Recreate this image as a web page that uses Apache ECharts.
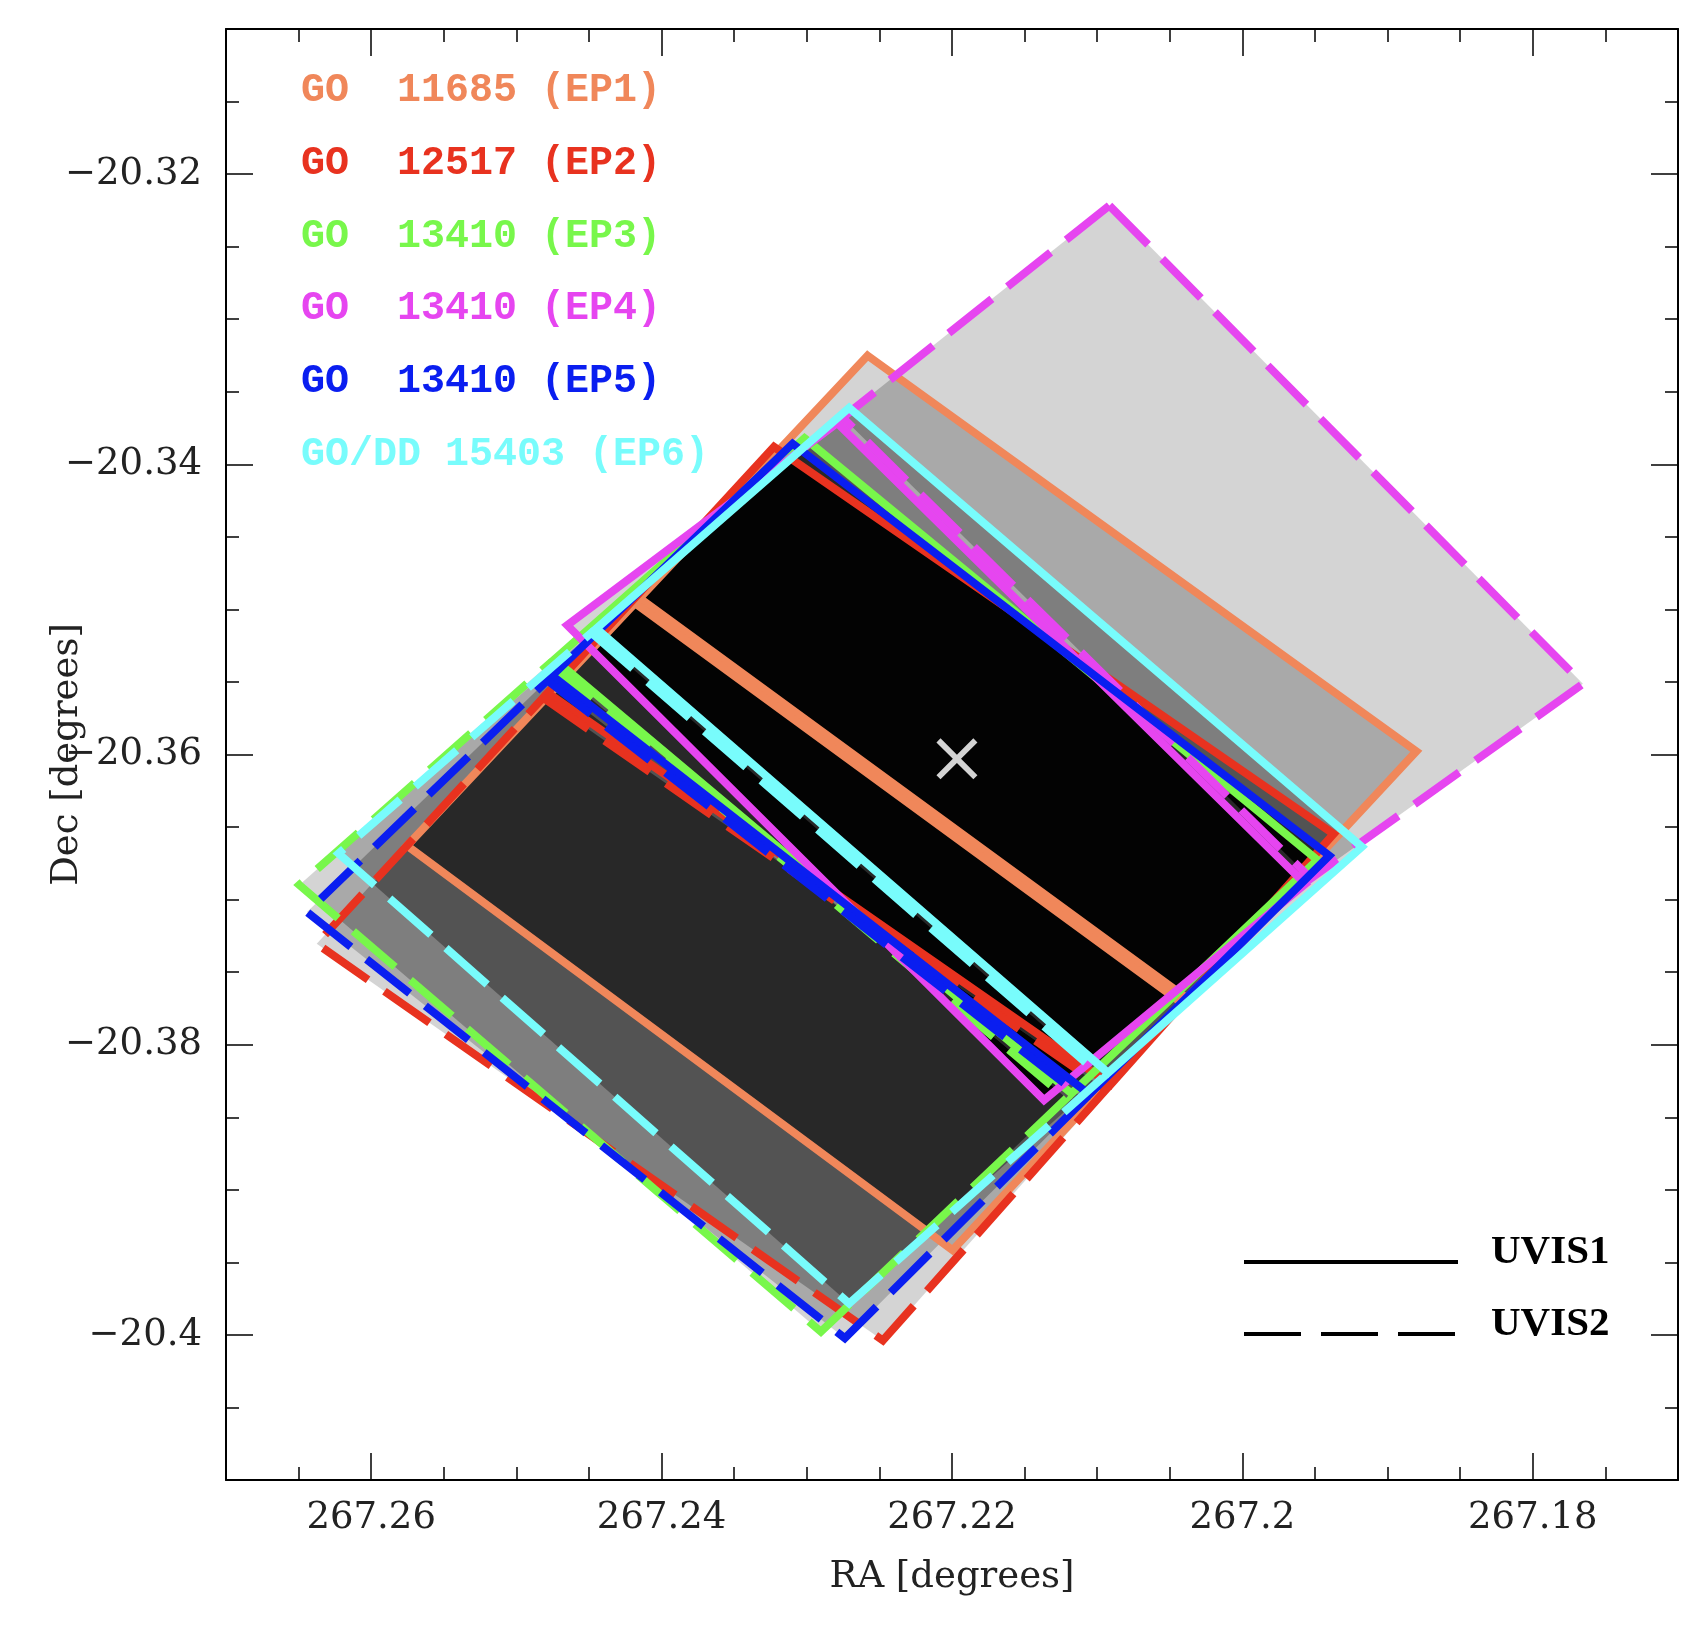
<!DOCTYPE html>
<html>
<head>
<meta charset="utf-8">
<script src="https://cdn.jsdelivr.net/npm/echarts@6/dist/echarts.min.js"></script>
<style>
  html, body { margin: 0; padding: 0; background: #fff; }
  #chart { width: 1706px; height: 1636px; }
</style>
</head>
<body>
<div id="chart"></div>
<script>
// epochs, legend labels and colours
const epochLabels = ['GO  11685 (EP1)', 'GO  12517 (EP2)', 'GO  13410 (EP3)',
                     'GO  13410 (EP4)', 'GO  13410 (EP5)', 'GO/DD 15403 (EP6)'];
const epochColors = ['#f0875a', '#e8321f', '#78f74b', '#e645f0', '#0a1ef0', '#78fcfc'];

// chip corners [RA, Dec]
const ep1Uvis1 = [[267.22581, -20.33251], [267.18802, -20.35978], [267.20383, -20.37680], [267.24151, -20.34923]];
const ep1Uvis2 = [[267.24183, -20.34957], [267.20415, -20.37714], [267.21996, -20.39416], [267.25753, -20.36629]];
const ep2Uvis1 = [[267.23226, -20.33880], [267.19372, -20.36547], [267.20908, -20.38275], [267.24785, -20.35575]];
const ep2Uvis2 = [[267.24816, -20.35609], [267.20940, -20.38310], [267.22476, -20.40038], [267.26375, -20.37304]];
const ep3Uvis1 = [[267.23016, -20.33820], [267.19484, -20.36727], [267.21177, -20.38336], [267.24738, -20.35344]];
const ep3Uvis2 = [[267.24773, -20.35375], [267.21211, -20.38369], [267.22903, -20.39978], [267.26495, -20.36899]];
const ep4Uvis1 = [[267.22791, -20.33715], [267.19567, -20.36892], [267.21366, -20.38382], [267.24650, -20.35109]];
const ep4Uvis2 = [[267.20916, -20.32217], [267.17655, -20.35513], [267.19529, -20.36854], [267.22753, -20.33678]];
const ep5Uvis1 = [[267.23098, -20.33858], [267.19402, -20.36697], [267.21054, -20.38343], [267.24754, -20.35456]];
const ep5Uvis2 = [[267.24787, -20.35489], [267.21087, -20.38376], [267.22738, -20.40023], [267.26442, -20.37086]];
const ep6Uvis1 = [[267.22708, -20.33611], [267.19177, -20.36637], [267.20925, -20.38194], [267.24449, -20.35131]];
const ep6Uvis2 = [[267.24484, -20.35161], [267.20961, -20.38226], [267.22708, -20.39783], [267.26225, -20.36682]];

// target position
const target = [267.21966, -20.36030];

// axis ticks
const raMajor = [267.18, 267.2, 267.22, 267.24, 267.26];
const raMinor = [267.175, 267.185, 267.19, 267.195, 267.205, 267.21, 267.215,
                 267.225, 267.23, 267.235, 267.245, 267.25, 267.255, 267.265];
const decMajor = [-20.4, -20.38, -20.36, -20.34, -20.32];
const decMinor = [-20.405, -20.395, -20.39, -20.385, -20.375, -20.37, -20.365,
                  -20.355, -20.35, -20.345, -20.335, -20.33, -20.325, -20.315];

// UVIS1 solid, UVIS2 dashed (EP1 drawn solid for both chips)
const chips = [
  { pts: ep1Uvis1, ep: 0, dashed: false }, { pts: ep1Uvis2, ep: 0, dashed: false },
  { pts: ep2Uvis1, ep: 1, dashed: false }, { pts: ep2Uvis2, ep: 1, dashed: true },
  { pts: ep3Uvis1, ep: 2, dashed: false }, { pts: ep3Uvis2, ep: 2, dashed: true },
  { pts: ep4Uvis1, ep: 3, dashed: false }, { pts: ep4Uvis2, ep: 3, dashed: true },
  { pts: ep5Uvis1, ep: 4, dashed: false }, { pts: ep5Uvis2, ep: 4, dashed: true },
  { pts: ep6Uvis1, ep: 5, dashed: false }, { pts: ep6Uvis2, ep: 5, dashed: true }
];

const chart = echarts.init(document.getElementById('chart'));

const labelFont = { fontFamily: 'DejaVu Serif', fontSize: 37, color: '#222' };
const fmt = v => (v < 0 ? '\u2212' : '') + Math.abs(v);

function axis(kind, pos, ticks, len, labels) {
  return {
    type: 'value', position: pos,
    min: kind === 'x' ? 267.17 : -20.41,
    max: kind === 'x' ? 267.27 : -20.31,
    inverse: kind === 'x',
    axisLine: { show: !!len.line, onZero: false, lineStyle: { color: '#000', width: 2 } },
    axisTick: { show: true, inside: true, length: len.tick, customValues: ticks,
                lineStyle: { color: '#000', width: 1.5 } },
    axisLabel: labels ? Object.assign({ customValues: ticks, formatter: fmt,
                margin: kind === 'x' ? 20 : 24 }, labelFont) : { show: false },
    splitLine: { show: false }
  };
}

const xMain = axis('x', 'bottom', raMajor, { tick: 27, line: true }, true);
xMain.name = 'RA [degrees]';
xMain.nameLocation = 'middle';
xMain.nameGap = 79;
xMain.nameMoveOverlap = false;
xMain.nameTextStyle = labelFont;
const yMain = axis('y', 'left', decMajor, { tick: 27, line: true }, true);
yMain.name = 'Dec [degrees]';
yMain.nameLocation = 'middle';
yMain.nameGap = 140;
yMain.nameMoveOverlap = false;
yMain.nameTextStyle = labelFont;

const legendGraphics = epochLabels.map((t, i) => ({
  type: 'text', x: 301, y: 91 + i * 72.8,
  style: { text: t, fill: epochColors[i], font: 'bold 40px "Liberation Mono"', verticalAlign: 'middle' }
}));
legendGraphics.push(
  { type: 'line', shape: { x1: 1244, y1: 1262, x2: 1458, y2: 1262 }, style: { stroke: '#000', lineWidth: 4 } },
  { type: 'line', shape: { x1: 1244, y1: 1334, x2: 1455, y2: 1334 }, style: { stroke: '#000', lineWidth: 4, lineDash: [57, 20] } },
  { type: 'text', x: 1491, y: 1252, style: { text: 'UVIS1', fill: '#000', font: 'bold 41px "Liberation Serif"', verticalAlign: 'middle' } },
  { type: 'text', x: 1491, y: 1324, style: { text: 'UVIS2', fill: '#000', font: 'bold 41px "Liberation Serif"', verticalAlign: 'middle' } }
);

const chipData = chips.map((c, i) => [c.pts[0][0], c.pts[0][1], i]);

chart.setOption({
  animation: false,
  backgroundColor: '#fff',
  grid: { left: 226, right: 28, top: 29, bottom: 156, containLabel: false },
  xAxis: [
    xMain,
    axis('x', 'bottom', raMinor, { tick: 13, line: false }, false),
    axis('x', 'top', raMajor, { tick: 27, line: true }, false),
    axis('x', 'top', raMinor, { tick: 13, line: false }, false)
  ],
  yAxis: [
    yMain,
    axis('y', 'left', decMinor, { tick: 13, line: false }, false),
    axis('y', 'right', decMajor, { tick: 27, line: true }, false),
    axis('y', 'right', decMinor, { tick: 13, line: false }, false)
  ],
  graphic: legendGraphics,
  series: [
    {
      // grey coverage fills: each chip takes the same step off what lies under it
      type: 'custom', z: 1, silent: true, clip: false,
      blendMode: 'difference',
      encode: { x: 0, y: 1 },
      data: chipData,
      renderItem: (params, api) => {
        const c = chips[params.dataIndex];
        return {
          type: 'polygon',
          shape: { points: c.pts.map(p => api.coord(p)) },
          style: { fill: 'rgb(43,43,43)' }
        };
      }
    },
    {
      type: 'custom', z: 2, silent: true, clip: false,
      encode: { x: 0, y: 1 },
      data: chipData,
      renderItem: (params, api) => {
        const c = chips[params.dataIndex];
        return {
          type: 'polygon',
          shape: { points: c.pts.map(p => api.coord(p)) },
          style: {
            fill: 'none', stroke: epochColors[c.ep], lineWidth: 8,
            lineDash: c.dashed ? [55, 20] : null, lineJoin: 'miter'
          }
        };
      }
    },
    {
      type: 'scatter', z: 3, silent: true,
      data: [target],
      symbol: 'path://M0,2L2,0L10,8L18,0L20,2L12,10L20,18L18,20L10,12L2,20L0,18L8,10Z',
      symbolSize: 41,
      itemStyle: { color: '#d4d4d4', opacity: 1 }
    }
  ]
});
</script>
</body>
</html>
